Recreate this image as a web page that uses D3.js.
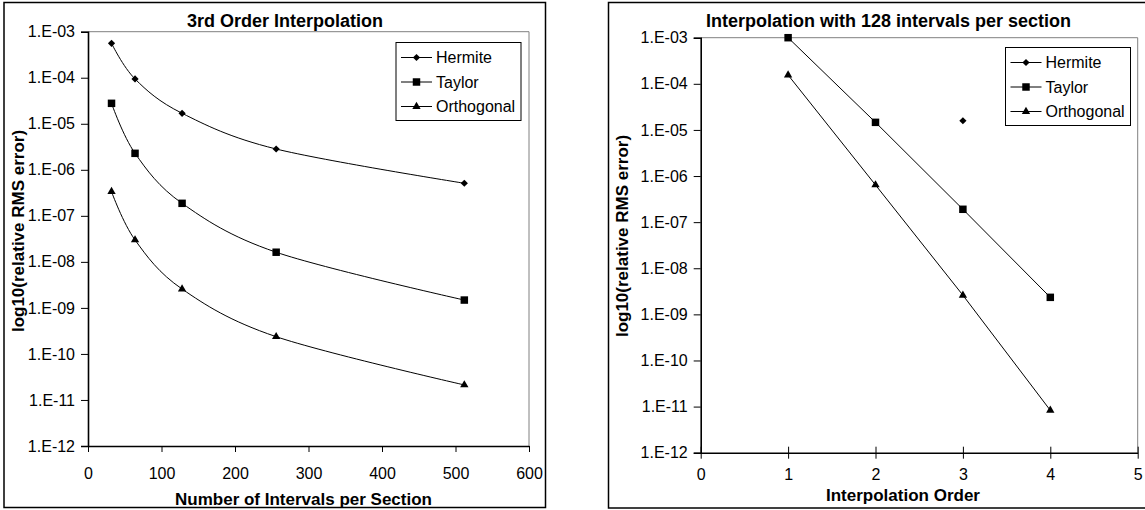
<!DOCTYPE html>
<html>
<head>
<meta charset="utf-8">
<script src="https://cdn.jsdelivr.net/npm/d3@7"></script>
<style>
  html, body { margin: 0; padding: 0; background: #fff; }
  text { font-family: "Liberation Sans", Arial, sans-serif; fill: #000; }
</style>
</head>
<body>
<svg id="chart" width="1145" height="510"></svg>
<script>
// ---- Data ----
const seriesNames = ["Hermite", "Taylor", "Orthogonal"];
const yTickValues = [1e-3, 1e-4, 1e-5, 1e-6, 1e-7, 1e-8, 1e-9, 1e-10, 1e-11, 1e-12];
const yTickLabels = ["1.E-03", "1.E-04", "1.E-05", "1.E-06", "1.E-07", "1.E-08", "1.E-09", "1.E-10", "1.E-11", "1.E-12"];

// Left chart: 3rd order interpolation
const intervals = [32, 64, 128, 256, 512];
const hermiteLeft = [5.6e-4, 9.4e-5, 1.69e-5, 2.83e-6, 5.1e-7];
const taylorLeft = [2.78e-5, 2.28e-6, 1.87e-7, 1.62e-8, 1.48e-9];
const orthogonalLeft = [3.35e-7, 2.99e-8, 2.57e-9, 2.37e-10, 2.12e-11];
const xTicksLeft = [0, 100, 200, 300, 400, 500, 600];

// Right chart: 128 intervals per section
const orders = [1, 2, 3, 4];
const hermiteRight = [null, null, 1.58e-5, null];
const taylorRight = [1.0e-3, 1.46e-5, 1.9e-7, 2.34e-9];
const orthogonalRight = [1.55e-4, 6.4e-7, 2.6e-9, 8.3e-12];
const xTicksRight = [0, 1, 2, 3, 4, 5];

const svg = d3.select("#chart");

const symbolTypes = [
  { type: d3.symbolSquare, size: 26, rotate: 45 },   // diamond
  { type: d3.symbolSquare, size: 56, rotate: 0 },    // square
  { type: d3.symbolTriangle, size: 30, rotate: 0 }   // triangle
];

function marker(g, i, x, y) {
  const s = symbolTypes[i];
  g.append("path")
    .attr("d", d3.symbol().type(s.type).size(s.size)())
    .attr("transform", `translate(${x},${y}) rotate(${s.rotate})`)
    .attr("fill", "#000");
}

function drawChart(o) {
  const g = svg.append("g");
  // outer frame
  g.append("rect")
    .attr("x", o.frame[0]).attr("y", o.frame[1])
    .attr("width", o.frame[2]).attr("height", o.frame[3])
    .attr("fill", "none").attr("stroke", "#000").attr("stroke-width", 1.5);

  const x = d3.scaleLinear().domain(o.xDomain).range([o.x0, o.x1]);
  const y = d3.scaleLog().domain([1e-12, 1e-3]).range([o.y1, o.y0]);

  // grey plot border top & right
  g.append("path")
    .attr("d", `M${o.x0},${o.y0}H${o.x1}V${o.y1}`)
    .attr("fill", "none").attr("stroke", "#808080").attr("stroke-width", 1);

  // Y axis
  const yAxis = g.append("g").attr("transform", `translate(${o.x0},0)`)
    .call(d3.axisLeft(y).tickValues(yTickValues)
      .tickFormat((d, i) => yTickLabels[i]).tickSize(7).tickPadding(6));
  yAxis.attr("font-size", null).attr("font-family", null);
  yAxis.select(".domain").attr("stroke", "#000").attr("stroke-width", 1.6);
  yAxis.selectAll(".tick line").attr("stroke", "#000").attr("stroke-width", 1);
  yAxis.selectAll(".tick text")
    .style("font-family", '"Liberation Sans", Arial, sans-serif')
    .style("font-size", "16px").attr("fill", "#000");

  // X axis
  const xAxis = g.append("g").attr("transform", `translate(0,${o.y1})`)
    .call(d3.axisBottom(x).tickValues(o.xTicks).tickFormat(d3.format("d"))
      .tickSizeOuter(0).tickSizeInner(6).tickPadding(o.xPad));
  xAxis.attr("font-size", null).attr("font-family", null);
  xAxis.select(".domain").attr("stroke", "#000").attr("stroke-width", 1.6);
  xAxis.selectAll(".tick line").attr("stroke", "#000").attr("stroke-width", 1)
    .attr("y1", o.crossTicks ? -6 : 0);
  xAxis.selectAll(".tick text")
    .style("font-family", '"Liberation Sans", Arial, sans-serif')
    .style("font-size", "16px").attr("fill", "#000");

  // Series
  o.series.forEach((vals, si) => {
    const pts = o.xs.map((xv, k) => [xv, vals[k]]).filter(p => p[1] != null);
    if (pts.length > 1) {
      const line = d3.line().x(p => x(p[0])).y(p => y(p[1])).curve(o.curve);
      g.append("path").attr("d", line(pts))
        .attr("fill", "none").attr("stroke", "#000").attr("stroke-width", 1);
    }
    pts.forEach(p => marker(g, si, x(p[0]), y(p[1])));
  });

  // Title
  g.append("text").attr("x", o.titleX).attr("y", o.titleY)
    .attr("text-anchor", "middle")
    .style("font-size", "18px").style("font-weight", "bold")
    .text(o.title);

  // X axis title
  g.append("text").attr("x", o.xTitleX).attr("y", o.xTitleY)
    .attr("text-anchor", "middle")
    .style("font-size", "17px").style("font-weight", "bold")
    .text(o.xTitle);

  // Y axis title
  g.append("text")
    .attr("transform", `translate(${o.yTitleX},${o.yTitleY}) rotate(-90)`)
    .attr("text-anchor", "middle")
    .style("font-size", "17px").style("font-weight", "bold")
    .text("log10(relative RMS error)");

  // Legend
  const lg = g.append("g").attr("transform", `translate(${o.legend[0]},${o.legend[1]})`);
  lg.append("rect").attr("x", 0).attr("y", 0).attr("width", 125).attr("height", 78)
    .attr("fill", "#fff").attr("stroke", "#000").attr("stroke-width", 1);
  seriesNames.forEach((name, i) => {
    const cy = 15 + i * 24.5;
    lg.append("line").attr("x1", 5).attr("x2", 36).attr("y1", cy).attr("y2", cy)
      .attr("stroke", "#000").attr("stroke-width", 1);
    marker(lg, i, 20.5, cy);
    lg.append("text").attr("x", 40).attr("y", cy + 5.5)
      .style("font-size", "16px").text(name);
  });
}

drawChart({
  frame: [4, 2.5, 541.5, 505],
  x0: 88, x1: 529, y0: 31.7, y1: 446,
  xDomain: [0, 600], xTicks: xTicksLeft, xPad: 16, crossTicks: false,
  xs: intervals,
  series: [hermiteLeft, taylorLeft, orthogonalLeft],
  curve: d3.curveCardinal.tension(0),
  title: "3rd Order Interpolation", titleX: 285, titleY: 26.5,
  xTitle: "Number of Intervals per Section", xTitleX: 303.5, xTitleY: 504.5,
  yTitleX: 24, yTitleY: 231,
  legend: [396, 42.5]
});

drawChart({
  frame: [608.5, 2.5, 540, 505.5],
  x0: 700.7, x1: 1137.7, y0: 37.7, y1: 452.7,
  xDomain: [0, 5], xTicks: xTicksRight, xPad: 10, crossTicks: true,
  xs: orders,
  series: [hermiteRight, taylorRight, orthogonalRight],
  curve: d3.curveLinear,
  title: "Interpolation with 128 intervals per section", titleX: 888.5, titleY: 27,
  xTitle: "Interpolation Order", xTitleX: 903, xTitleY: 500.5,
  yTitleX: 628, yTitleY: 236,
  legend: [1005.5, 47.5]
});
</script>
</body>
</html>
